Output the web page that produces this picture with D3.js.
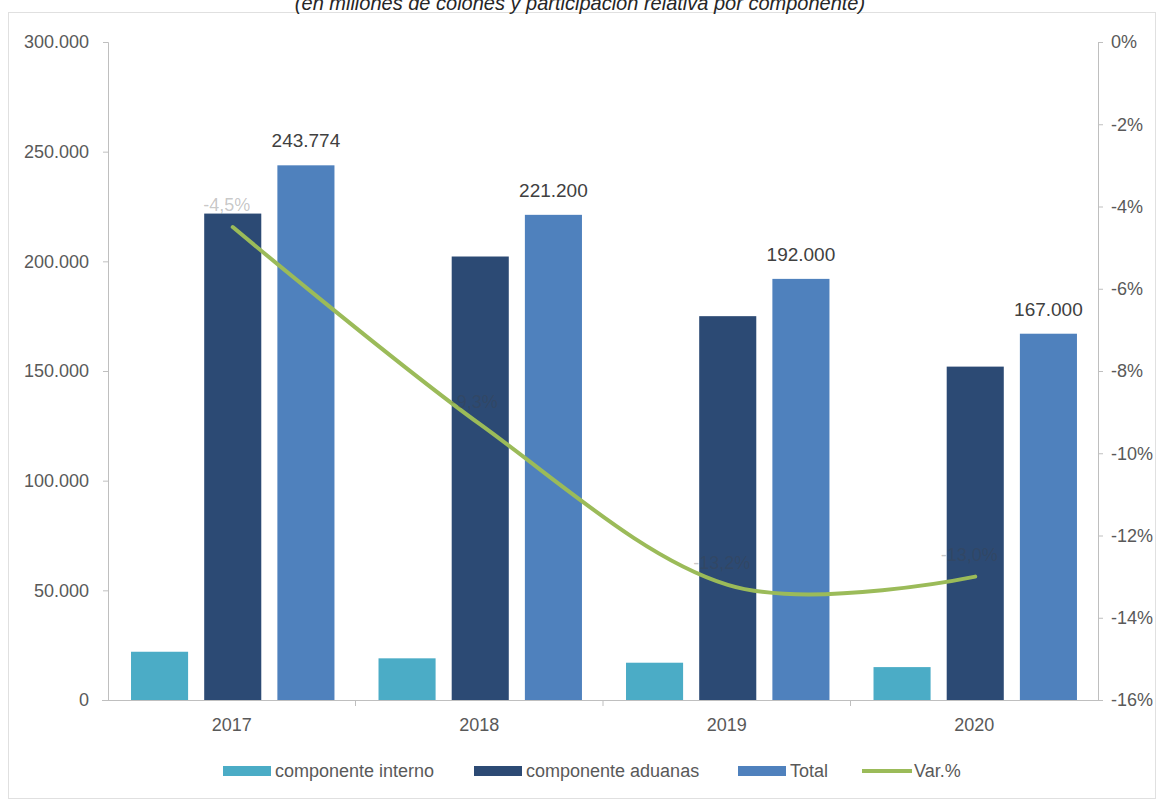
<!DOCTYPE html>
<meta charset="utf-8">
<style>
body { margin: 0; background: #fff; }
text { font-family: "Liberation Sans", Arial, sans-serif; }
.axis text { fill: #595959; font-size: 18px; }
.axis path, .axis line { stroke: #bfbfbf; }
</style>
<svg width="1164" height="803"></svg>
<script src="https://d3js.org/d3.v7.min.js"></script>
<script>

var years = ["2017", "2018", "2019", "2020"];
var interno = [22000, 19000, 17000, 15000];
var aduanas = [221774, 202200, 175000, 152000];
var total = [243774, 221200, 192000, 167000];
var varPct = [-4.5, -9.3, -13.2, -13.0];
var leftTicks = [0, 50000, 100000, 150000, 200000, 250000, 300000];
var rightTicks = [0, -2, -4, -6, -8, -10, -12, -14, -16];

var svg = d3.select("svg");
var margin = {left: 108, right: 66, top: 42, bottom: 103};
var width = 1164 - margin.left - margin.right,
    height = 803 - margin.top - margin.bottom;

var fmtNum = function(v) { return d3.format(",")(v).replace(/,/g, "."); };
var fmtPct = function(v) { return d3.format(".1f")(v).replace("−", "-").replace(".", ",") + "%"; };

// frame
svg.append("rect")
    .attr("x", 8.5).attr("y", 12.5)
    .attr("width", 1147).attr("height", 786)
    .attr("fill", "none").attr("stroke", "#e0e0e0");

svg.append("text")
    .attr("x", 580).attr("y", 10)
    .attr("text-anchor", "middle")
    .style("font-style", "italic")
    .style("font-size", "20px")
    .attr("fill", "#262626")
    .text("(en millones de colones y participación relativa por componente)");

var g = svg.append("g").attr("transform", "translate(" + margin.left + "," + margin.top + ")");

var x = d3.scaleBand().domain(years).range([0, width]);
var y = d3.scaleLinear().domain([0, 300000]).range([height, 0]);
var y2 = d3.scaleLinear().domain([-16, 0]).range([height, 0]);

var series = [
  {name: "componente interno", values: interno, color: "#4bacc6"},
  {name: "componente aduanas", values: aduanas, color: "#2c4a74"},
  {name: "Total", values: total, color: "#4f81bd"}
];

var sub = d3.scaleBand().domain(d3.range(3)).range([x.bandwidth() * 0.093, x.bandwidth() * 0.915]).paddingInner(0.22);

series.forEach(function(s, i) {
  g.selectAll(".bar" + i)
    .data(s.values)
    .enter().append("rect")
      .attr("x", function(d, j) { return x(years[j]) + sub(i); })
      .attr("y", function(d) { return y(d); })
      .attr("width", sub.bandwidth())
      .attr("height", function(d) { return height - y(d); })
      .attr("fill", s.color);
});

// total labels
g.selectAll(".tlabel")
  .data(total)
  .enter().append("text")
    .attr("x", function(d, j) { return x(years[j]) + sub(2) + sub.bandwidth() / 2; })
    .attr("y", function(d) { return y(d) - 18; })
    .attr("text-anchor", "middle")
    .attr("fill", "#404040")
    .style("font-size", "19px")
    .text(fmtNum);

// axes
g.append("g").attr("class", "axis")
    .call(d3.axisLeft(y).tickValues(leftTicks).tickFormat(fmtNum).tickSizeOuter(0).tickSize(5).tickPadding(14));
g.append("g").attr("class", "axis")
    .attr("transform", "translate(" + width + ",0)")
    .call(d3.axisRight(y2).tickValues(rightTicks).tickFormat(function(d) { return d + "%"; }).tickSizeOuter(0).tickSize(5).tickPadding(8));
var xAxis = g.append("g").attr("class", "axis")
    .attr("transform", "translate(0," + height + ")")
    .call(d3.axisBottom(x).tickSize(0).tickPadding(18));
xAxis.select(".domain").attr("d", "M-6,0.5H" + width);
xAxis.selectAll(".sep")
  .data(years.slice(1))
  .enter().append("line")
    .attr("x1", function(d) { return x(d); }).attr("x2", function(d) { return x(d); })
    .attr("y1", 0).attr("y2", 6)
    .attr("stroke", "#bfbfbf");

// Var % line
var lineX = function(d, j) { return x(years[j]) + sub(1) + sub.bandwidth() / 2; };
var line = d3.line()
    .x(lineX)
    .y(function(d) { return y2(d); })
    .curve(d3.curveCardinal);

g.append("path")
    .datum(varPct)
    .attr("d", line)
    .attr("fill", "none")
    .attr("stroke", "#9bbb59")
    .attr("stroke-width", 4)
    .attr("stroke-linecap", "round");

// faint data labels of the line (barely visible in the original)
g.selectAll(".plabel")
  .data(varPct)
  .enter().append("text")
    .attr("x", function(d, j) { return lineX(d, j) - 6; })
    .attr("y", function(d) { return y2(d) - 16; })
    .attr("text-anchor", "middle")
    .attr("fill", "#404040")
    .attr("fill-opacity", 0.3)
    .style("font-size", "18px")
    .text(fmtPct);

// legend
var legend = svg.append("g").attr("transform", "translate(0,771)");
var items = [
  {name: "componente interno", color: "#4bacc6", x: 223, type: "rect"},
  {name: "componente aduanas", color: "#2c4a74", x: 474, type: "rect"},
  {name: "Total", color: "#4f81bd", x: 738, type: "rect"},
  {name: "Var.%", color: "#9bbb59", x: 862, type: "line"}
];
items.forEach(function(it) {
  if (it.type === "rect") {
    legend.append("rect").attr("x", it.x).attr("y", -5).attr("width", 48).attr("height", 10).attr("fill", it.color);
  } else {
    legend.append("line").attr("x1", it.x).attr("x2", it.x + 50).attr("y1", 0).attr("y2", 0)
      .attr("stroke", it.color).attr("stroke-width", 4);
  }
  legend.append("text").attr("x", it.x + 52).attr("y", 6)
    .attr("fill", "#595959").style("font-size", "18px").text(it.name);
});

</script>
